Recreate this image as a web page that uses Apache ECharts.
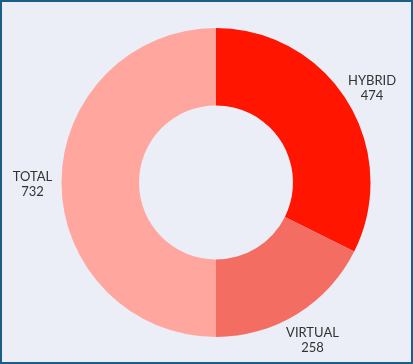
<!DOCTYPE html>
<html>
<head>
<meta charset="utf-8">
<script src="https://cdn.jsdelivr.net/npm/echarts@6/dist/echarts.min.js"></script>
<style>
html,body{margin:0;padding:0;background:#EBEEF7;}
#chart{width:413px;height:364px;box-sizing:border-box;border:2px solid #1D5E89;background:#EBEEF7;}
</style>
</head>
<body>
<div id="chart"></div>
<script>
const categories = ['HYBRID', 'VIRTUAL', 'TOTAL'];
const values = [474, 258, 732];
const colors = ['#FF1500', '#F46D62', '#FFA69F'];

const chart = echarts.init(document.getElementById('chart'), null, {renderer: 'canvas'});
const data = categories.map((c, i) => ({name: c, value: values[i], itemStyle: {color: colors[i]}}));
const labelData = categories.map((c, i) => ({name: c, value: values[i]}));

chart.setOption({
  animation: false,
  backgroundColor: '#EBEEF7',
  series: [
    {
      type: 'pie',
      center: [214, 180.5],
      radius: [77, 154.5],
      startAngle: 90,
      clockwise: true,
      silent: true,
      label: {show: false},
      labelLine: {show: false},
      data: data
    },
    {
      type: 'pie',
      center: [214, 180.5],
      radius: [158, 203],
      startAngle: 90,
      clockwise: true,
      silent: true,
      itemStyle: {color: 'transparent'},
      label: {
        show: true,
        position: 'inside',
        formatter: '{b}\n{c}',
        color: '#333333',
        fontFamily: 'Lato',
        fontSize: 13,
        lineHeight: 15,
        align: 'center',
        offset: [0, 2]
      },
      labelLine: {show: false},
      data: labelData
    }
  ]
});
</script>
</body>
</html>
